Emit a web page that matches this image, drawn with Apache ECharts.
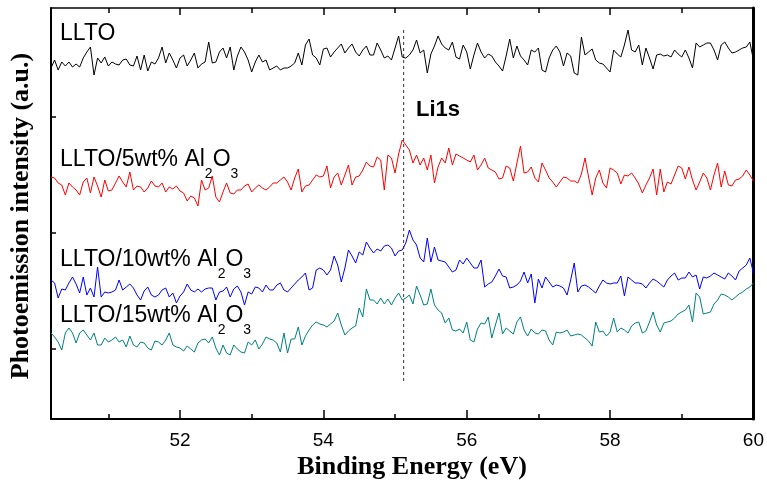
<!DOCTYPE html>
<html><head><meta charset="utf-8">
<script src="https://cdn.jsdelivr.net/npm/echarts@6/dist/echarts.min.js"></script>
<style>html,body{margin:0;padding:0;background:#fff}#c{width:767px;height:482px}</style>
</head><body><div id="c"></div>
<script>
// Binding energy grid (eV): start and step of the scan
const eStart = 50.2;
const eStep = 0.05;

// Photoemission intensity (a.u.), one value per scan step
const lltoValues = [
432,440,430,438,434,438,433,436,433,442,
448,453,425,442,437,443,434,438,436,435,
440,441,435,434,444,430,445,429,438,436,
442,453,437,447,440,432,442,445,434,440,
447,432,436,438,458,437,438,448,452,442,
453,430,444,453,448,440,428,438,445,438,
440,430,432,434,430,432,432,434,437,447,
435,455,461,445,442,435,451,452,443,448,
452,456,447,452,456,448,444,450,454,445,
445,457,450,442,444,440,452,464,443,442,
445,450,460,447,450,427,446,454,464,456,
452,450,458,443,441,455,448,431,445,457,
448,442,446,444,438,434,429,444,461,442,
454,444,440,435,450,448,452,430,428,442,
450,454,448,434,447,444,427,425,463,445,
448,451,440,437,436,432,428,450,446,443,
455,470,450,448,455,435,452,442,431,445,
446,444,445,443,450,446,443,450,442,432,
457,453,455,457,457,450,440,455,458,452,
447,448,450,452,453,458,440];

const al5Values = [
323,322,317,315,305,317,313,310,305,318,
322,307,323,314,303,320,309,310,317,324,
318,313,328,310,314,313,308,312,319,314,
313,317,308,313,311,314,309,307,299,304,
302,294,320,310,312,324,303,298,308,317,
307,306,310,310,314,316,308,312,315,312,
310,313,317,317,320,323,318,310,322,331,
308,314,315,320,325,323,324,334,312,323,
327,315,325,335,315,323,324,330,338,334,
333,343,340,310,345,342,327,346,360,355,
350,337,345,335,342,330,345,317,333,342,
337,352,335,346,344,342,340,338,345,330,
335,342,332,330,328,321,322,334,332,319,
337,354,327,328,333,322,318,337,330,322,
318,313,318,323,322,319,319,317,326,342,
323,305,322,330,317,312,332,330,327,316,
325,324,327,322,316,307,315,322,331,305,
331,308,318,316,325,334,332,321,333,320,
310,318,327,322,310,325,337,313,329,315,
314,320,321,324,330,325,319];

const al10Values = [
220,217,202,211,210,217,223,216,207,223,
205,212,203,233,203,208,207,208,210,220,
210,213,216,212,205,200,209,213,205,203,
205,210,212,203,207,197,204,208,216,210,
208,211,208,211,212,212,200,208,209,213,
203,211,214,208,195,208,206,213,212,208,
215,210,210,215,217,210,208,212,216,220,
223,227,210,212,230,232,230,225,230,244,
235,218,232,250,244,237,248,245,258,252,
247,251,249,254,255,252,244,249,250,257,
270,260,255,242,238,262,238,253,240,239,
238,233,228,230,240,236,242,237,232,232,
240,213,216,218,224,231,224,223,212,213,
215,219,228,217,226,197,221,212,223,218,
213,215,214,212,205,220,237,208,214,215,
213,210,207,214,220,217,216,217,217,224,
204,223,220,217,217,216,212,217,221,219,
216,213,220,224,227,220,222,222,228,223,
225,211,223,222,224,227,225,223,221,227,
224,220,229,232,235,242,227];

const al15Values = [
167,163,158,150,167,172,167,157,167,170,
165,160,167,155,155,162,158,160,163,158,
160,153,164,155,153,158,157,152,150,159,
158,155,160,167,155,153,152,149,154,151,
148,157,160,161,157,163,152,145,155,147,
145,155,151,148,147,158,155,160,151,156,
163,161,160,157,148,167,147,161,161,173,
155,164,170,175,178,176,175,173,176,179,
187,175,165,169,172,174,192,183,211,200,
200,196,202,196,201,195,202,207,200,202,
205,196,214,205,195,196,211,195,190,187,
177,182,170,169,171,167,178,160,158,171,
177,176,183,162,175,187,166,172,169,166,
178,183,170,164,171,167,166,170,169,160,
155,168,167,168,170,164,165,166,165,162,
159,154,178,168,169,164,168,182,168,172,
170,167,174,177,178,167,169,178,188,175,
168,177,178,179,182,186,188,190,195,178,
207,203,186,187,188,196,200,206,205,203,
200,203,206,208,211,213,217];

// Li 1s reference position and dashed-line extent
const li1sEnergy = 55.12;
const li1sSpan = [470, 118];

// Axis ranges and tick values
const xMin = 50.2, xMax = 60;
const yMin = 81, yMax = 492;
const xMajorTicks = [52, 54, 56, 58, 60];
const xMinorTicks = [51, 53, 55, 57, 59];
const yTicks = [151, 267, 383];

const seriesNames = ['LLTO', 'LLTO/5wt% Al2O3', 'LLTO/10wt% Al2O3', 'LLTO/15wt% Al2O3'];
const seriesColors = ['#000000', '#ff0000', '#0000ff', '#008080'];

function toPairs(vals) {
  return vals.map((v, i) => [Math.round((eStart + i * eStep) * 100) / 100, v]);
}

const chart = echarts.init(document.getElementById('c'), null, {renderer: 'canvas'});

const SANS = '"Liberation Sans", Arial, sans-serif';
const SERIF = '"Liberation Serif", "Times New Roman", serif';

const mctx = document.createElement('canvas').getContext('2d');
function tw(t, font) { mctx.font = font; return mctx.measureText(t).width; }

const mainSize = 23, subSize = 14;
const mainFont = mainSize + 'px ' + SANS;
const subFont = subSize + 'px ' + SANS;

function labelGraphics(x0, cy, parts, color) {
  const out = [];
  let x = x0;
  parts.forEach(p => {
    const sub = p[1];
    const font = sub ? subFont : mainFont;
    out.push({
      type: 'text', x: x, y: sub ? cy + 14 : cy, silent: true,
      style: {text: p[0], font: font, fill: color, align: 'left', verticalAlign: 'middle'}
    });
    x += tw(p[0], font);
  });
  return out;
}

const graphics = [].concat(
  labelGraphics(60, 34, [['LLTO', false]], '#000'),
  labelGraphics(60, 160, [['LLTO/5wt% Al', false], ['2', true], ['O', false], ['3', true]], '#000'),
  labelGraphics(60, 260, [['LLTO/10wt% Al', false], ['2', true], ['O', false], ['3', true]], '#000'),
  labelGraphics(60, 316, [['LLTO/15wt% Al', false], ['2', true], ['O', false], ['3', true]], '#000'),
  [{
    type: 'text', x: 416, y: 110, silent: true,
    style: {text: 'Li1s', font: 'bold 22px ' + SANS, fill: '#000', align: 'left', verticalAlign: 'middle'}
  }, {
    type: 'text', x: 412, y: 467, silent: true,
    style: {text: 'Binding Energy (eV)', font: 'bold 26px ' + SERIF, fill: '#000', align: 'center', verticalAlign: 'middle'}
  }, {
    type: 'text', x: 21, y: 216, rotation: Math.PI / 2, silent: true,
    style: {text: 'Photoemission intensity (a.u.)', font: 'bold 26px ' + SERIF, fill: '#000', align: 'center', verticalAlign: 'middle'}
  }]
);

function xAxisDef(pos, ticks, len, showLine, lineW, showLabel) {
  return {
    type: 'value', position: pos, min: xMin, max: xMax,
    axisLine: {show: showLine, onZero: false, lineStyle: {color: '#000', width: lineW}},
    axisTick: {show: true, inside: true, length: len, customValues: ticks, lineStyle: {color: '#000', width: 1.5}},
    axisLabel: showLabel ? {show: true, customValues: ticks, margin: 12, color: '#000', fontSize: 19, fontFamily: SANS} : {show: false},
    splitLine: {show: false}
  };
}

const dataSets = [lltoValues, al5Values, al10Values, al15Values];

const series = dataSets.map((vals, k) => ({
  name: seriesNames[k], type: 'line', xAxisIndex: 0, yAxisIndex: 0,
  data: toPairs(vals), showSymbol: false, symbol: 'none', smooth: false,
  lineStyle: {color: seriesColors[k], width: 1}, z: 3
}));

series.push({
  name: 'Li1s', type: 'line', xAxisIndex: 0, yAxisIndex: 0,
  data: [[li1sEnergy, li1sSpan[0]], [li1sEnergy, li1sSpan[1]]],
  symbol: 'none', lineStyle: {color: '#333', width: 1, type: [3, 3]}, z: 2
});

chart.setOption({
  animation: false,
  backgroundColor: '#fff',
  grid: {left: 51, right: 10, top: 8, bottom: 63, containLabel: false},
  xAxis: [
    xAxisDef('bottom', xMajorTicks, 9, true, 2, true),
    xAxisDef('bottom', xMinorTicks, 5, false, 2, false),
    xAxisDef('top', xMajorTicks, 7, true, 1.5, false),
    xAxisDef('top', xMinorTicks, 5, false, 1.5, false)
  ],
  yAxis: [
    {type: 'value', position: 'left', min: yMin, max: yMax,
     axisLine: {show: true, onZero: false, lineStyle: {color: '#000', width: 2}},
     axisTick: {show: true, inside: true, length: 5, customValues: yTicks, lineStyle: {color: '#000', width: 1.5}},
     axisLabel: {show: false}, splitLine: {show: false}},
    {type: 'value', position: 'right', min: yMin, max: yMax,
     axisLine: {show: true, onZero: false, lineStyle: {color: '#000', width: 3}},
     axisTick: {show: false}, axisLabel: {show: false}, splitLine: {show: false}}
  ],
  series: series,
  graphic: graphics
});
</script>
</body></html>
